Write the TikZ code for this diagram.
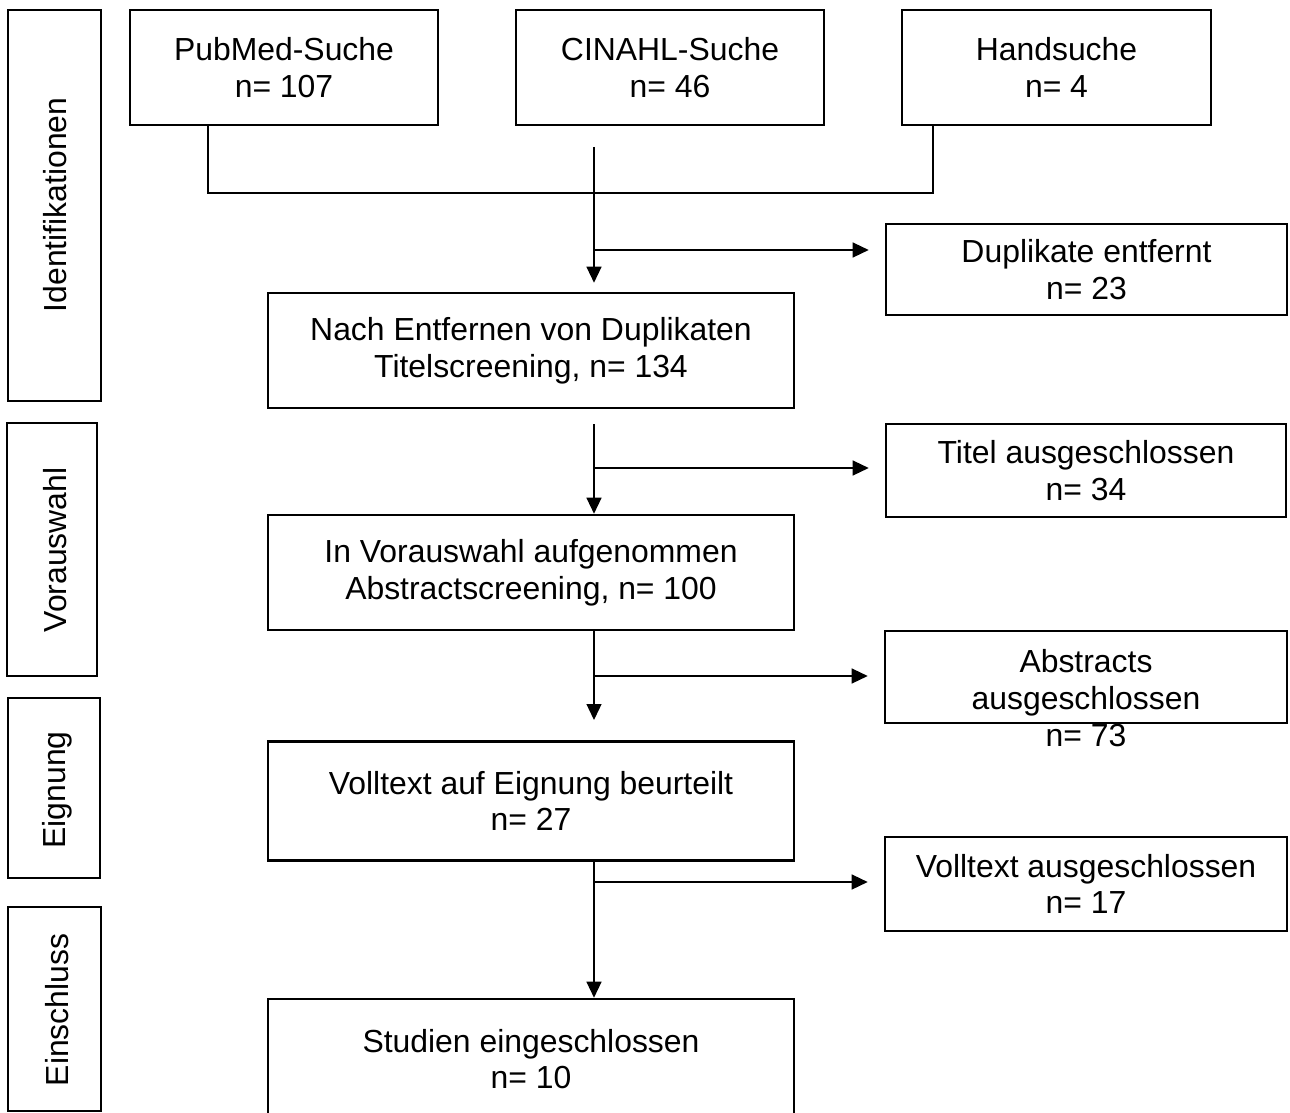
\documentclass[tikz,border=0pt]{standalone}
\usepackage{fontspec}
\setmainfont{Liberation Sans}
\usetikzlibrary{arrows.meta}
\tikzset{
  box/.style={draw, line width=2.6pt, inner sep=0pt, align=center,
    font=\fontsize{31.9}{36.7}\selectfont},
  phase/.style={draw, line width=2.6pt, inner sep=0pt},
  phasetext/.style={rotate=90, inner sep=0pt, font=\fontsize{31.9}{36.7}\selectfont},
  conn/.style={line width=1.3pt},
  arr/.style={line width=1.3pt, -{Triangle[length=16pt,width=15pt]}},
}
\begin{document}
\begin{tikzpicture}[x=1pt,y=-1pt]
\useasboundingbox[fill=white] (0,0) rectangle (1290,1113);
% phase boxes
\node[phase, minimum width=93pt, minimum height=391pt] (id) at (54.5,205.5) {};
\node[phasetext] (idt) at (55,205) {Identifikationen};
\node[phase, minimum width=90pt, minimum height=253pt] (vor) at (52,549.5) {};
\node[phasetext] (vort) at (55,550) {Vorauswahl};
\node[phase, minimum width=92pt, minimum height=180pt] (eig) at (54,788) {};
\node[phasetext] (eigt) at (57,790) {Eignung};
\node[phase, minimum width=93pt, minimum height=204pt] (ein) at (54.5,1009) {};
\node[phasetext] (eint) at (57,1010) {Einschluss};
% top boxes
\node[box, minimum width=308pt, minimum height=115pt] (pub) at (284,67.5) {PubMed-Suche\\n= 107};
\node[box, minimum width=308pt, minimum height=115pt] (cin) at (670,67.5) {CINAHL-Suche\\n= 46};
\node[box, minimum width=309pt, minimum height=115pt] (hand) at (1056.5,67.5) {Handsuche\\n= 4};
% main flow
\node[box, minimum width=526pt, minimum height=115pt] (nach) at (531,350.5) {Nach Entfernen von Duplikaten\\Titelscreening, n= 134};
\node[box, minimum width=526pt, minimum height=115pt] (vsel) at (531,572.5) {In Vorauswahl aufgenommen\\Abstractscreening, n= 100};
\node[box, minimum width=526pt, minimum height=119pt] (voll) at (531,801) {Volltext auf Eignung beurteilt\\n= 27};
\node[box, minimum width=526pt, minimum height=120pt] (stud) at (531,1059) {Studien eingeschlossen\\n= 10};
% exclusion boxes
\node[box, minimum width=401pt, minimum height=91pt] (dup) at (1086.5,269.5) {Duplikate entfernt\\n= 23};
\node[box, minimum width=400pt, minimum height=93pt] (tit) at (1086,470.5) {Titel ausgeschlossen\\n= 34};
\node[box, minimum width=402pt, minimum height=92pt] (abs) at (1086,677) {};
\node[box, draw=none, anchor=center] (abst) at (1086,698) {Abstracts\\ausgeschlossen\\n= 73};
\node[box, minimum width=402pt, minimum height=94pt] (vaus) at (1086,884) {Volltext ausgeschlossen\\n= 17};
% junction coordinates
\coordinate (j1) at (208,193);
\coordinate (j2) at (933,193);
\coordinate (c0) at (594,147);
\coordinate (c1) at (594,424);
\coordinate (c2) at (594,720);
\coordinate (h1) at (594,250);
\coordinate (h2) at (594,468);
\coordinate (h3) at (594,676);
\coordinate (h4) at (594,882);
% connectors
\draw[conn] (pub.south -| j1) -- (j1) -- (j2) -- (hand.south -| j2);
\draw[arr, shorten >=9pt] (c0) -- (c0 |- nach.north);
\draw[arr] (c1) -- (c1 |- vsel.north);
\draw[arr] (vsel.south -| c2) -- (c2);
\draw[arr] (voll.south -| c2) -- (c2 |- stud.north);
\draw[arr, shorten >=16pt] (h1) -- (h1 -| dup.west);
\draw[arr, shorten >=16pt] (h2) -- (h2 -| tit.west);
\draw[arr, shorten >=16pt] (h3) -- (h3 -| abs.west);
\draw[arr, shorten >=16pt] (h4) -- (h4 -| vaus.west);
\end{tikzpicture}
\end{document}
